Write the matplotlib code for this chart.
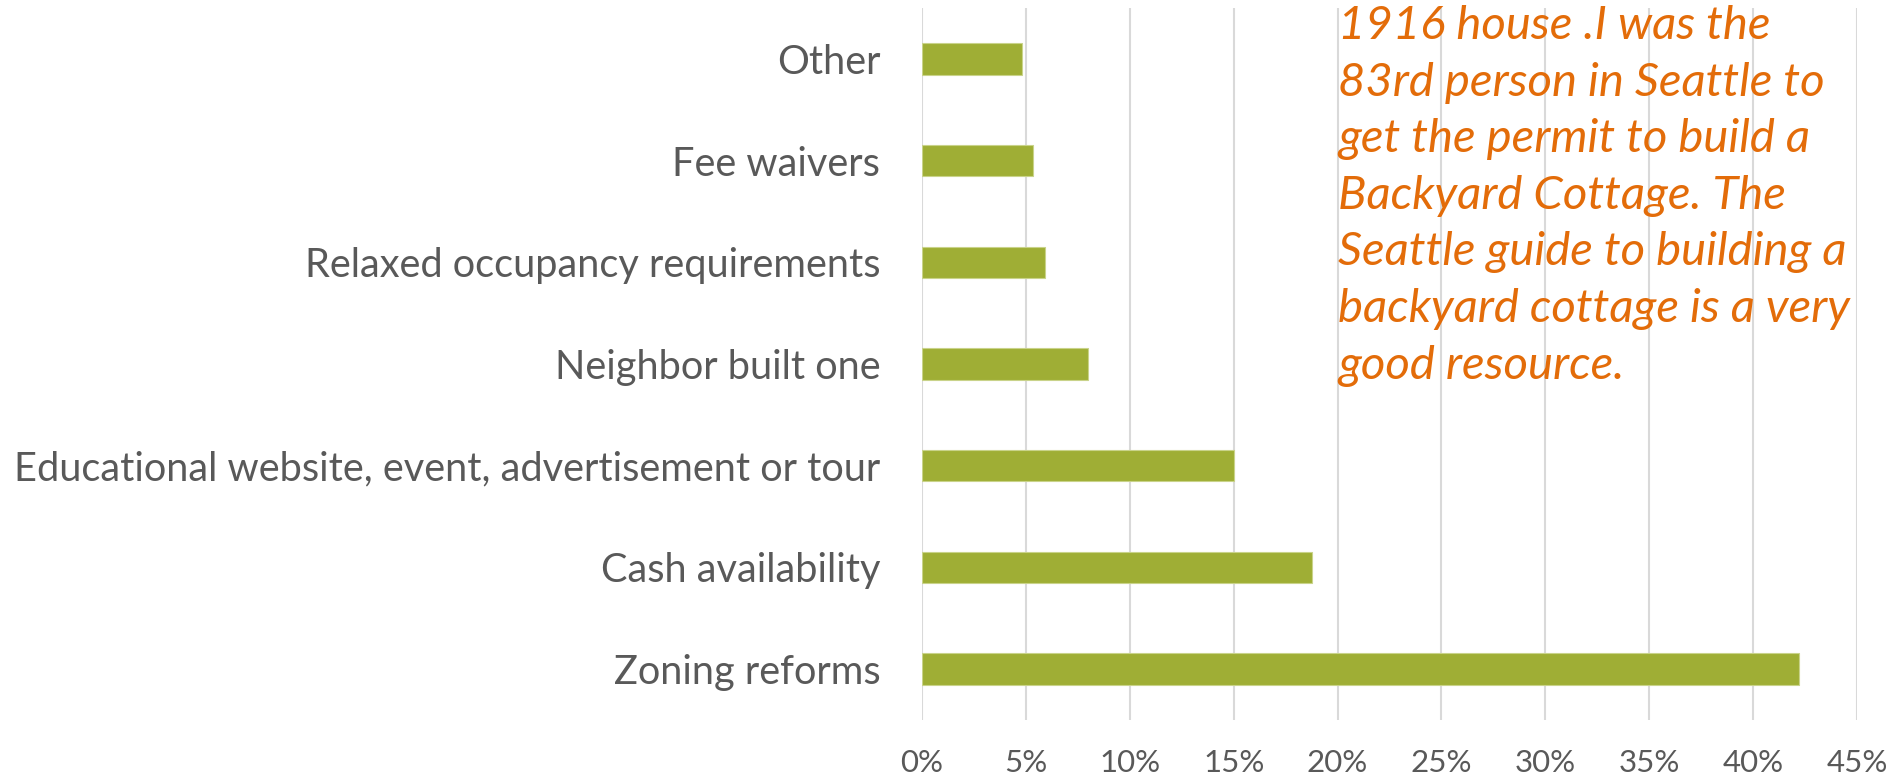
import matplotlib
matplotlib.use("Agg")
import matplotlib.pyplot as plt
from matplotlib.ticker import PercentFormatter

categories = ["Zoning reforms", "Cash availability",
              "Educational website, event, advertisement or tour",
              "Neighbor built one", "Relaxed occupancy requirements",
              "Fee waivers", "Other"]
shares = [42.2, 18.75, 15.0, 8.0, 5.9, 5.35, 4.8]
x_ticks = [0, 5, 10, 15, 20, 25, 30, 35, 40, 45]

note_lines = ["1916 house .I was the",
              "83rd person in Seattle to",
              "get the permit to build a",
              "Backyard Cottage. The",
              "Seattle guide to building a",
              "backyard cottage is a very",
              "good resource."]

plt.rcParams["font.family"] = ["Lato", "DejaVu Sans"]

W, H = 1891, 776
fig = plt.figure(figsize=(W / 100, H / 100), dpi=100)
ax = fig.add_axes([922 / W, 1 - 720 / H, (1857 - 922) / W, (720 - 8) / H])

ypos = list(range(len(categories)))
ax.barh(ypos, shares, height=0.31, color="#9FAE35",
        edgecolor="#C9D38A", linewidth=0.8, zorder=3)

ax.set_xlim(0, 45)
ax.set_ylim(-0.5, len(categories) - 0.5)
ax.set_xticks(x_ticks)
ax.xaxis.set_major_formatter(PercentFormatter(decimals=0))
ax.set_yticks(ypos)
ax.set_yticklabels(categories)

ax.grid(axis="x", color="#D9D9D9", linewidth=1.5, zorder=0)
for s in ax.spines.values():
    s.set_visible(False)
ax.tick_params(axis="y", length=0, pad=30, labelsize=28.6, labelcolor="#595959")
ax.tick_params(axis="x", length=0, pad=21, labelsize=22.5, labelcolor="#595959")

# text box from the original slide, overflowing the top of the chart
for i, line in enumerate(note_lines):
    fig.text(1338 / W, 1 - (39 + 56.6 * i) / H, line, color="#E36C09",
             fontsize=34, style="italic", ha="left", va="baseline")

fig.savefig("out.png", dpi=100)
